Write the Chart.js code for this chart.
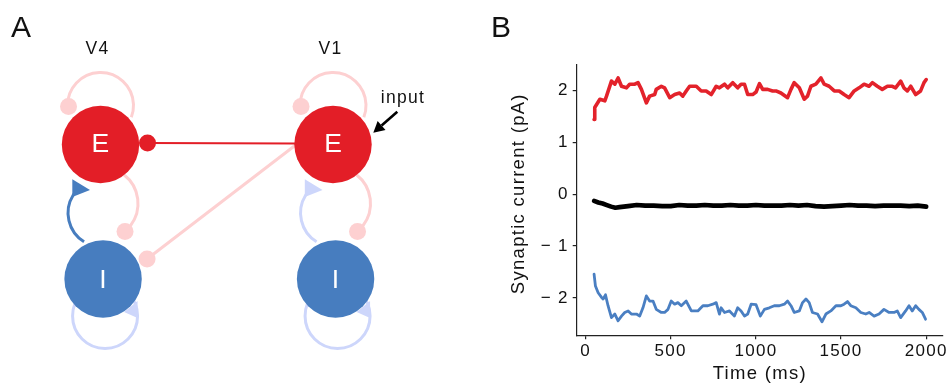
<!DOCTYPE html>
<html>
<head>
<meta charset="utf-8">
<script src="https://cdn.jsdelivr.net/npm/chart.js@4/dist/chart.umd.min.js"></script>
<style>
  html, body { margin: 0; padding: 0; background: #fff; }
  #fig { position: relative; width: 950px; height: 383px; }
  #fig canvas { position: absolute; top: 0; }
  #diagram { left: 0; }
  #trace { left: 490px; }
</style>
</head>
<body>
<div id="fig">
  <canvas id="diagram" width="490" height="383"></canvas>
  <canvas id="trace" width="460" height="383"></canvas>
</div>
<script>
// ---- panel A: network nodes (V4 column 0, V1 column 1; E row 0, I row 1) ----
var areaNames = ["V4", "V1"];
var nodeLabels = ["E", "E", "I", "I"];
var nodeX = [0, 1, 0.011, 1.011];
var nodeY = [0, 0, 1, 1];

// ---- panel B: synaptic current traces (ms, pA) ----
var redTime = [
  50, 54, 84, 113, 123, 152, 172, 191, 211, 240,
  259, 289, 308, 328, 357, 376, 406, 415, 445, 464,
  494, 523, 552, 571, 591, 611, 650, 679, 708, 738,
  767, 786, 816, 835, 864, 893, 913, 933, 952, 981,
  1001, 1021, 1040, 1069, 1098, 1118, 1147, 1186, 1206, 1225,
  1255, 1284, 1303, 1323, 1352, 1382, 1401, 1430, 1460, 1489,
  1518, 1547, 1577, 1606, 1635, 1664, 1684, 1713, 1742, 1772,
  1801, 1820, 1850, 1869, 1889, 1909, 1938, 1967, 1987, 2000
];
var redValue = [
  1.44, 1.67, 1.83, 1.80, 1.89, 2.18, 2.12, 2.24, 2.08, 2.05,
  2.12, 2.12, 2.15, 2.02, 1.76, 1.89, 1.92, 2.02, 2.08, 2.05,
  1.86, 1.92, 1.95, 1.89, 1.99, 2.08, 2.08, 1.99, 1.99, 1.92,
  2.08, 2.05, 2.12, 2.05, 2.15, 2.05, 2.12, 2.12, 1.92, 1.92,
  1.97, 2.13, 2.02, 2.02, 1.99, 1.99, 1.95, 1.86, 2.02, 2.15,
  2.05, 1.83, 1.89, 2.08, 2.12, 2.24, 2.12, 2.08, 1.99, 1.99,
  1.92, 1.86, 1.99, 2.05, 2.12, 2.08, 2.15, 2.08, 2.02, 2.08,
  2.08, 2.05, 2.18, 2.05, 1.99, 2.08, 1.92, 1.99, 2.15, 2.21
];
var blackTime = [
  50, 75, 100, 125, 150, 175, 200, 250, 300, 350,
  400, 450, 500, 550, 600, 650, 700, 750, 800, 850,
  900, 950, 1000, 1050, 1100, 1150, 1200, 1250, 1300, 1350,
  1400, 1450, 1500, 1550, 1600, 1650, 1700, 1750, 1800, 1850,
  1900, 1950, 2000
];
var blackValue = [
  -0.13, -0.16, -0.18, -0.21, -0.24, -0.26, -0.25, -0.23, -0.21, -0.22,
  -0.22, -0.23, -0.23, -0.21, -0.22, -0.22, -0.21, -0.22, -0.22, -0.21,
  -0.22, -0.22, -0.21, -0.22, -0.22, -0.22, -0.21, -0.22, -0.21, -0.23,
  -0.24, -0.23, -0.22, -0.21, -0.22, -0.22, -0.23, -0.22, -0.22, -0.22,
  -0.23, -0.22, -0.24
];
var blueTime = [
  50, 58, 74, 94, 103, 117, 132, 152, 172, 191,
  211, 230, 250, 269, 299, 318, 337, 357, 376, 396,
  415, 445, 464, 484, 503, 523, 542, 562, 591, 621,
  659, 689, 718, 747, 767, 786, 796, 816, 845, 874,
  893, 913, 933, 952, 972, 1001, 1026, 1050, 1079, 1108,
  1138, 1167, 1186, 1206, 1225, 1255, 1274, 1294, 1313, 1332,
  1362, 1388, 1411, 1440, 1470, 1499, 1518, 1538, 1557, 1587,
  1616, 1645, 1665, 1694, 1723, 1752, 1782, 1811, 1830, 1850,
  1879, 1899, 1918, 1938, 1957, 1977, 1996
];
var blueValue = [
  -1.54, -1.77, -1.90, -1.99, -2.02, -1.94, -2.15, -2.38, -2.31, -2.44,
  -2.35, -2.28, -2.25, -2.31, -2.31, -2.35, -2.19, -1.96, -2.06, -2.06,
  -2.22, -2.28, -2.28, -2.22, -2.06, -2.12, -2.09, -2.15, -2.06, -2.25,
  -2.25, -2.15, -2.15, -2.12, -2.09, -2.31, -2.19, -2.28, -2.25, -2.35,
  -2.19, -2.25, -2.35, -2.31, -2.12, -2.13, -2.35, -2.22, -2.19, -2.15,
  -2.15, -2.12, -2.06, -2.15, -2.28, -2.25, -2.09, -2.02, -2.09, -2.28,
  -2.31, -2.46, -2.31, -2.25, -2.15, -2.15, -2.12, -2.07, -2.15, -2.19,
  -2.28, -2.31, -2.28, -2.35, -2.31, -2.22, -2.28, -2.28, -2.25, -2.38,
  -2.25, -2.15, -2.25, -2.15, -2.22, -2.28, -2.41
];
var xTicks = [0, 500, 1000, 1500, 2000];
var yTicks = [-2, -1, 0, 1, 2];

var RED = "#e31e27";
var BLUE = "#477dbf";
var PINK = "#fdd0d1";
var LIGHT_BLUE = "#cdd6fb";
var FONT = "'Liberation Sans', Arial, sans-serif";
// the original's text is Arial glyphs set on wider advances; spread it a bit
var SPACING = "1.3px";

Chart.defaults.font.family = FONT;
Chart.defaults.color = "#111";

function pairs(xs, ys) {
  return xs.map(function (x, i) { return { x: x, y: ys[i] }; });
}

function rad(deg) { return deg * Math.PI / 180; }

function arc(ctx, cx, cy, r, a0, a1, color, lw) {
  ctx.beginPath();
  ctx.arc(cx, cy, r, rad(a0), rad(a1));
  ctx.strokeStyle = color;
  ctx.lineWidth = lw;
  ctx.stroke();
}

function dot(ctx, x, y, r, color) {
  ctx.beginPath();
  ctx.arc(x, y, r, 0, Math.PI * 2);
  ctx.fillStyle = color;
  ctx.fill();
}

function tri(ctx, pts, color) {
  ctx.beginPath();
  ctx.moveTo(pts[0][0], pts[0][1]);
  ctx.lineTo(pts[1][0], pts[1][1]);
  ctx.lineTo(pts[2][0], pts[2][1]);
  ctx.closePath();
  ctx.fillStyle = color;
  ctx.fill();
}

function line(ctx, x0, y0, x1, y1, color, lw) {
  ctx.beginPath();
  ctx.moveTo(x0, y0);
  ctx.lineTo(x1, y1);
  ctx.strokeStyle = color;
  ctx.lineWidth = lw;
  ctx.stroke();
}

var R = 38.7;

// Connections go under the nodes; labels and the input arrow on top.
var diagramPlugin = {
  id: "diagram",
  beforeDatasetsDraw: function (chart) {
    var ctx = chart.ctx;
    var p = chart.getDatasetMeta(0).data;
    var eNodes = [p[0], p[1]];
    var iNodes = [p[2], p[3]];
    ctx.save();
    ctx.lineCap = "butt";

    [0, 1].forEach(function (c) {
      var e = eNodes[c], n = iNodes[c];
      // E self loop on top
      arc(ctx, e.x, e.y - 39, 33, 178, 381, PINK, 3);
      dot(ctx, e.x - 32, e.y - 38, 8.5, PINK);
      // E -> I on the right
      arc(ctx, e.x + 1, e.y + 59, 36.5, -52, 50, PINK, 3);
      dot(ctx, e.x + 24.5, e.y + 87, 8.5, PINK);
      // I -> E on the left (strong in V4, faint in V1)
      var ie = c === 0 ? BLUE : LIGHT_BLUE;
      arc(ctx, n.x - 1, n.y - 66, 34, 122, 218, ie, 3);
      tri(ctx, [[e.x - 28.2, e.y + 34.8], [e.x - 28.2, e.y + 52.5], [e.x - 10.5, e.y + 45.5]], ie);
      // I self loop underneath
      arc(ctx, n.x + 2, n.y + 37, 32.5, 0, 360, LIGHT_BLUE, 3);
      tri(ctx, [[n.x + 34.5, n.y + 22], [n.x + 34.5, n.y + 39], [n.x + 21, n.y + 33]], LIGHT_BLUE);
    });

    var e4 = eNodes[0], e1 = eNodes[1], i4 = iNodes[0];
    // V1 E -> V4 I (faint) and V1 E -> V4 E (strong)
    line(ctx, e1.x - R + 2, e1.y, i4.x + 44, i4.y - 20, PINK, 3);
    dot(ctx, i4.x + 44, i4.y - 20, 8.5, PINK);
    line(ctx, e1.x - R + 2, e1.y - 1, e4.x + 47, e4.y - 1.5, RED, 2.2);
    dot(ctx, e4.x + 47, e4.y - 1.5, 8.5, RED);
    ctx.restore();
  },
  afterDatasetsDraw: function (chart) {
    var ctx = chart.ctx;
    var p = chart.getDatasetMeta(0).data;
    ctx.save();
    ctx.letterSpacing = SPACING;
    ctx.fillStyle = "#fff";
    ctx.textAlign = "center";
    ctx.textBaseline = "alphabetic";
    ctx.font = "26.5px " + FONT;
    p.forEach(function (n, i) {
      ctx.fillText(nodeLabels[i], n.x + 0.6, n.y + (nodeLabels[i] === "E" ? 7.5 : 9.5));
    });

    ctx.fillStyle = "#111";
    ctx.font = "17.5px " + FONT;
    ctx.fillText(areaNames[0], p[0].x - 3, p[0].y - 90.3);
    ctx.fillText(areaNames[1], p[1].x - 2.5, p[1].y - 90.3);

    ctx.font = "17.5px " + FONT;
    ctx.fillText("input", p[1].x + 70, p[1].y - 41.5);

    // input arrow
    var e1 = p[1];
    var x0 = e1.x + 64.3, y0 = e1.y - 32.8, x1 = e1.x + 40.3, y1 = e1.y - 11.8;
    var ang = Math.atan2(y1 - y0, x1 - x0);
    var hl = 11, hw = 6;
    var bx = x1 - hl * Math.cos(ang), by = y1 - hl * Math.sin(ang);
    line(ctx, x0, y0, bx, by, "#000", 2.6);
    tri(ctx, [[x1, y1],
      [bx + hw * Math.sin(ang), by - hw * Math.cos(ang)],
      [bx - hw * Math.sin(ang), by + hw * Math.cos(ang)]], "#000");

    ctx.fillStyle = "#111";
    ctx.textAlign = "left";
    ctx.letterSpacing = "0px";
    ctx.font = "30px " + FONT;
    ctx.fillText("A", 11, 37);
    ctx.restore();
  }
};

new Chart(document.getElementById("diagram"), {
  type: "scatter",
  data: {
    datasets: [{
      data: pairs(nodeX, nodeY),
      pointRadius: R,
      pointHoverRadius: R,
      pointBorderWidth: 0,
      pointBackgroundColor: [RED, RED, BLUE, BLUE],
      clip: false
    }]
  },
  options: {
    responsive: false,
    devicePixelRatio: 1,
    animation: false,
    events: [],
    layout: { padding: 0, autoPadding: false },
    plugins: { legend: { display: false }, tooltip: { enabled: false } },
    scales: {
      x: { type: "linear", display: false, min: -0.4323, max: 1.6752 },
      y: { type: "linear", display: false, reverse: true, min: -1.0743, max: 1.7733 }
    }
  },
  plugins: [diagramPlugin]
});

// Letter spacing for the axis text (must be re-set after Chart.js resizes the canvas).
var spacedText = {
  id: "spacedText",
  beforeLayout: function (chart) { chart.ctx.letterSpacing = SPACING; },
  beforeDraw: function (chart) { chart.ctx.letterSpacing = SPACING; },
  afterDraw: function (chart) {
    var ctx = chart.ctx;
    ctx.save();
    ctx.letterSpacing = "0px";
    ctx.fillStyle = "#111";
    ctx.font = "30px " + FONT;
    ctx.textAlign = "left";
    ctx.textBaseline = "alphabetic";
    ctx.fillText("B", 1, 37);
    ctx.restore();
  }
};

function trace(label, xs, ys, color, width) {
  return {
    label: label,
    data: pairs(xs, ys),
    borderColor: color,
    borderWidth: width,
    pointRadius: 0,
    tension: 0,
    fill: false,
    borderJoinStyle: "round",
    borderCapStyle: "round"
  };
}

var axisColor = "#222";

new Chart(document.getElementById("trace"), {
  type: "line",
  data: {
    datasets: [
      trace("E", redTime, redValue, "#e3222b", 3.6),
      trace("net", blackTime, blackValue, "#000", 4.6),
      trace("I", blueTime, blueValue, "#4a7fc2", 2.8)
    ]
  },
  options: {
    responsive: false,
    devicePixelRatio: 1,
    animation: false,
    events: [],
    layout: { padding: { left: 0, top: 65, right: 6, bottom: 0 } },
    plugins: { legend: { display: false }, tooltip: { enabled: false } },
    scales: {
      x: {
        type: "linear",
        min: -52,
        max: 2098,
        afterFit: function (s) { s.height = 47.7; },
        afterBuildTicks: function (s) {
          s.ticks = xTicks.map(function (v) { return { value: v }; });
        },
        grid: { drawOnChartArea: false, drawTicks: true, tickLength: 4, color: axisColor, lineWidth: 1.2 },
        border: { display: true, color: axisColor, width: 1.2 },
        ticks: {
          font: { size: 17 },
          color: "#111",
          padding: 2,
          maxRotation: 0,
          autoSkip: false,
          callback: function (v) { return String(v); }
        },
        title: {
          display: true,
          text: "Time (ms)",
          color: "#111",
          font: { size: 18.5, lineHeight: 1 },
          padding: { top: 0, bottom: 0 }
        }
      },
      y: {
        type: "linear",
        min: -2.72,
        max: 2.49,
        afterFit: function (s) { s.width = 86.7; },
        afterBuildTicks: function (s) {
          s.ticks = yTicks.map(function (v) { return { value: v }; });
        },
        grid: { drawOnChartArea: false, drawTicks: true, tickLength: 4, color: axisColor, lineWidth: 1.2 },
        border: { display: true, color: axisColor, width: 1.2 },
        ticks: {
          font: { size: 17 },
          color: "#111",
          padding: 4,
          callback: function (v) { return v < 0 ? "\u2212 " + Math.abs(v) : String(v); }
        },
        title: {
          display: true,
          text: "  Synaptic current (pA)",
          color: "#111",
          font: { size: 18.5, lineHeight: 1 },
          padding: { top: 20, bottom: 0 }
        }
      }
    }
  },
  plugins: [spacedText]
});
</script>
</body>
</html>
